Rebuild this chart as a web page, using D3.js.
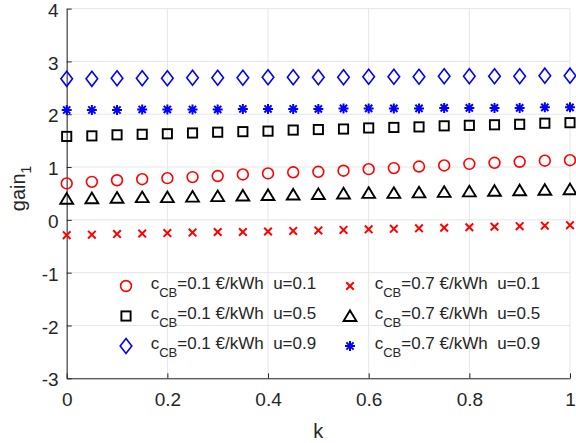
<!DOCTYPE html>
<html>
<head>
<meta charset="utf-8">
<script src="https://cdn.jsdelivr.net/npm/d3@7"></script>
<style>
  body { margin: 0; background: #fff; }
  text { font-family: "Liberation Sans", Arial, sans-serif; fill: #262626; }
</style>
</head>
<body>
<div id="chart"></div>
<script>
// k values along x
var kValues = [0, 0.05, 0.1, 0.15, 0.2, 0.25, 0.3, 0.35, 0.4, 0.45, 0.5,
  0.55, 0.6, 0.65, 0.7, 0.75, 0.8, 0.85, 0.9, 0.95, 1];

// gain_1, one array per series
var c01u01 = [0.69, 0.72, 0.75, 0.77, 0.79, 0.81, 0.83, 0.86, 0.88, 0.90, 0.91,
  0.93, 0.96, 0.98, 1.01, 1.03, 1.06, 1.08, 1.10, 1.12, 1.13];
var c01u05 = [1.58, 1.59, 1.61, 1.62, 1.63, 1.645, 1.66, 1.67, 1.68, 1.70, 1.71,
  1.72, 1.74, 1.75, 1.76, 1.78, 1.79, 1.80, 1.81, 1.83, 1.84];
var c01u09 = [2.67, 2.67, 2.68, 2.68, 2.68, 2.69, 2.69, 2.69, 2.70, 2.70, 2.70,
  2.70, 2.71, 2.71, 2.71, 2.72, 2.72, 2.72, 2.72, 2.73, 2.73];
var c07u01 = [-0.29, -0.28, -0.27, -0.26, -0.25, -0.24, -0.23, -0.23, -0.22, -0.21, -0.20,
  -0.19, -0.18, -0.17, -0.16, -0.15, -0.14, -0.13, -0.12, -0.11, -0.10];
var c07u05 = [0.40, 0.41, 0.42, 0.43, 0.43, 0.44, 0.45, 0.46, 0.47, 0.48, 0.49,
  0.50, 0.51, 0.51, 0.52, 0.53, 0.54, 0.55, 0.56, 0.57, 0.58];
var c07u09 = [2.08, 2.08, 2.08, 2.09, 2.09, 2.09, 2.09, 2.10, 2.10, 2.10, 2.10,
  2.11, 2.11, 2.11, 2.11, 2.12, 2.12, 2.12, 2.12, 2.13, 2.13];

var xTicks = [0, 0.2, 0.4, 0.6, 0.8, 1];
var yTicks = [-3, -2, -1, 0, 1, 2, 3, 4];

var series = [
  { c: "0.1", u: "0.1", values: c01u01, shape: "circle", color: "#ff0000" },
  { c: "0.1", u: "0.5", values: c01u05, shape: "square", color: "#000000" },
  { c: "0.1", u: "0.9", values: c01u09, shape: "diamond", color: "#0000ff" },
  { c: "0.7", u: "0.1", values: c07u01, shape: "cross", color: "#ff0000" },
  { c: "0.7", u: "0.5", values: c07u05, shape: "triangle", color: "#000000" },
  { c: "0.7", u: "0.9", values: c07u09, shape: "star", color: "#0000ff" }
];

var W = 576, H = 443;
var margin = { top: 8.6, right: 6, bottom: 64.7, left: 66.7 };
var width = W - margin.left - margin.right,
  height = H - margin.top - margin.bottom;

var svg = d3.select("#chart").append("svg")
  .attr("width", W).attr("height", H);

var g = svg.append("g")
  .attr("transform", "translate(" + margin.left + "," + margin.top + ")");

var x = d3.scaleLinear().domain([0, 1]).range([0, width]);
var y = d3.scaleLinear().domain([-3, 4]).range([height, 0]);

// grid
g.selectAll(".gx").data(xTicks).enter().append("line")
  .attr("x1", function (d) { return x(d); }).attr("x2", function (d) { return x(d); })
  .attr("y1", 0).attr("y2", height)
  .attr("stroke", "#e6e6e6").attr("stroke-width", 1);
g.selectAll(".gy").data(yTicks).enter().append("line")
  .attr("y1", function (d) { return y(d); }).attr("y2", function (d) { return y(d); })
  .attr("x1", 0).attr("x2", width)
  .attr("stroke", "#e6e6e6").attr("stroke-width", 1);

// axes, ticks inward, plain hyphen minus like the original
var fmt = function (d) { return String(d); };
var xAxis = g.append("g").attr("transform", "translate(0," + height + ")")
  .call(d3.axisBottom(x).tickValues(xTicks).tickSizeInner(-5).tickSizeOuter(0)
    .tickPadding(14).tickFormat(fmt));
var yAxis = g.append("g")
  .call(d3.axisLeft(y).tickValues(yTicks).tickSizeInner(-5).tickSizeOuter(0)
    .tickPadding(8).tickFormat(fmt));
yAxis.selectAll("text").attr("dy", "0.4em");
[xAxis, yAxis].forEach(function (a) {
  a.select(".domain").attr("stroke", "#262626");
  a.selectAll(".tick line").attr("stroke", "#262626");
  a.selectAll("text").style("font-size", "19px")
    .style("font-family", "'Liberation Sans', Arial, sans-serif").attr("fill", "#262626");
});

// marker shapes
function marker(sel, shape, color) {
  var sw = 1.6;
  if (shape === "circle") {
    sel.append("circle").attr("r", 5.4).attr("fill", "none")
      .attr("stroke", color).attr("stroke-width", sw);
  } else if (shape === "square") {
    sel.append("rect").attr("x", -4.6).attr("y", -4.6).attr("width", 9.2).attr("height", 9.2)
      .attr("fill", "none").attr("stroke", color).attr("stroke-width", 1.9);
  } else if (shape === "diamond") {
    sel.append("path").attr("d", "M0,-7.5L5.8,0L0,7.5L-5.8,0Z")
      .attr("fill", "none").attr("stroke", color).attr("stroke-width", sw);
  } else if (shape === "triangle") {
    sel.append("path").attr("d", "M0,-5.6L6.4,5L-6.4,5Z")
      .attr("fill", "none").attr("stroke", color).attr("stroke-width", 1.9);
  } else if (shape === "cross") {
    sel.append("path").attr("d", "M-3.8,-3.8L3.8,3.8M-3.8,3.8L3.8,-3.8")
      .attr("fill", "none").attr("stroke", color).attr("stroke-width", 2);
  } else if (shape === "star") {
    sel.append("path").attr("d", "M0,-5L0,5M-5,0L5,0M-3.6,-3.6L3.6,3.6M-3.6,3.6L3.6,-3.6")
      .attr("fill", "none").attr("stroke", color).attr("stroke-width", 2);
  }
}

series.forEach(function (s) {
  g.append("g").selectAll("g").data(s.values).enter().append("g")
    .attr("transform", function (d, i) { return "translate(" + x(kValues[i]) + "," + y(d) + ")"; })
    .each(function () { marker(d3.select(this), s.shape, s.color); });
});

// legend, two columns of three rows, no box
var legX = [126, 350], legY = [286, 316, 346];
series.forEach(function (s, i) {
  var col = Math.floor(i / 3), row = i % 3;
  var lg = svg.append("g").attr("transform", "translate(" + legX[col] + "," + legY[row] + ")");
  marker(lg, s.shape, s.color);
  var t = lg.append("text").attr("x", 24.7).attr("y", 3.3)
    .style("font-size", "17px");
  t.append("tspan").text("c");
  t.append("tspan").attr("dy", 7.4).style("font-size", "13px").text("CB");
  t.append("tspan").attr("dy", -7.4).text("=" + s.c + " €/kWh\u00a0 u=" + s.u);
});

// axis labels
svg.append("text").attr("x", margin.left + width / 2).attr("y", 438)
  .attr("text-anchor", "middle").style("font-size", "20px").text("k");
var yl = svg.append("text")
  .attr("transform", "translate(25," + (margin.top + height / 2 - 5) + ") rotate(-90)")
  .attr("text-anchor", "middle").style("font-size", "20px");
yl.append("tspan").text("gain");
yl.append("tspan").attr("dy", 6).style("font-size", "14px").text("1");
</script>
</body>
</html>
